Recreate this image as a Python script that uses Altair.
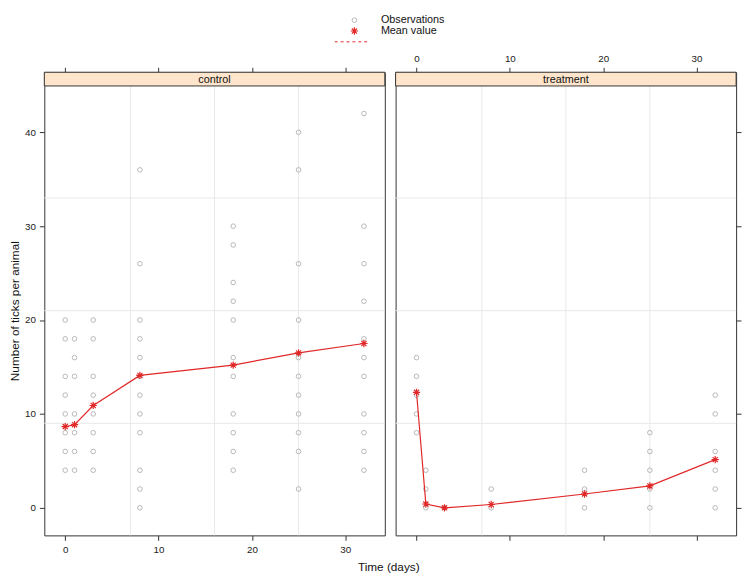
import altair as alt
import pandas as pd

# ---------------- data ----------------
times = [0, 1, 3, 8, 18, 25, 32]

ctrl_t0 = [20, 18, 14, 12, 10, 8, 6, 4]
ctrl_t1 = [18, 16, 14, 10, 8, 6, 4]
ctrl_t3 = [20, 18, 14, 12, 10, 8, 6, 4]
ctrl_t8 = [36, 26, 20, 18, 16, 14, 12, 10, 8, 4, 2, 0]
ctrl_t18 = [30, 28, 24, 22, 20, 16, 14, 10, 8, 6, 4]
ctrl_t25 = [40, 36, 26, 20, 16, 14, 12, 10, 8, 6, 2]
ctrl_t32 = [42, 30, 26, 22, 18, 16, 14, 10, 8, 6, 4]
ctrl_obs = [ctrl_t0, ctrl_t1, ctrl_t3, ctrl_t8, ctrl_t18, ctrl_t25, ctrl_t32]
ctrl_mean = [8.65, 8.85, 10.9, 14.1, 15.2, 16.5, 17.5]

treat_t0 = [16, 14, 12, 10, 8]
treat_t1 = [4, 2, 0]
treat_t3 = [0]
treat_t8 = [2, 0]
treat_t18 = [4, 2, 0]
treat_t25 = [8, 6, 4, 2, 0]
treat_t32 = [12, 10, 6, 4, 2, 0]
treat_obs = [treat_t0, treat_t1, treat_t3, treat_t8, treat_t18, treat_t25, treat_t32]
treat_mean = [12.3, 0.4, 0.0, 0.35, 1.47, 2.33, 5.13]

grid_x = [7, 16, 25]
grid_y = [9, 21, 33]
x_ticks = [0, 10, 20, 30]
y_ticks = [0, 10, 20, 30, 40]
strip_labels = ["control", "treatment"]
legend_labels = ["Observations", "Mean value"]
x_title = "Time (days)"
y_title = "Number of ticks per animal"

# ---------------- styling ----------------
FONT = "Liberation Sans"
INK = "#333333"
GRID = "#e8e8e8"
PT = "#b0b0b0"
RED = "#e02828"
STRIP_FILL = "#ffe5cc"
STAR = "M-1,0L1,0M0,-1L0,1M-0.7,-0.7L0.7,0.7M-0.7,0.7L0.7,-0.7"

W = 347
H = 472
STRIP = 14
XDOM = [-2.24, 34.24]
YDOM = [-2.94, 46.40]


def long_obs(obs):
    rows = []
    for t, vals in zip(times, obs):
        for v in vals:
            rows.append({"time": t, "count": v})
    return pd.DataFrame(rows)


def make_panel(obs, means, label, is_left):
    xs = alt.Scale(domain=XDOM, nice=False, zero=False)
    ys = alt.Scale(domain=YDOM, nice=False, zero=False)
    obs_df = long_obs(obs)
    mean_df = pd.DataFrame({"time": times, "mean": means})
    gx_df = pd.DataFrame({"gx": grid_x})
    gy_df = pd.DataFrame({"gy": grid_y})
    lab_df = pd.DataFrame({"label": [label]})

    if is_left:
        bottom_axis = alt.Axis(orient="bottom", values=x_ticks, title=x_title,
                               titleX=350.5, titleY=32, titleBaseline="middle",
                               titleAlign="center")
        top_axis = alt.Axis(orient="top", values=x_ticks, labels=False, title="")
        y_axis = alt.Axis(orient="left", values=y_ticks, title=y_title,
                          titleX=-30, titleY=243, titleAngle=270,
                          titleBaseline="middle", titleAlign="center")
    else:
        bottom_axis = alt.Axis(orient="bottom", values=x_ticks, labels=False, title="")
        top_axis = alt.Axis(orient="top", values=x_ticks, title="")
        y_axis = alt.Axis(orient="right", values=y_ticks, labels=False, title="")

    vgrid = alt.Chart(gx_df).mark_rule(color=GRID, strokeWidth=1).encode(
        x=alt.X("gx:Q", scale=xs, axis=top_axis))
    hgrid = alt.Chart(gy_df).mark_rule(color=GRID, strokeWidth=1).encode(
        y=alt.Y("gy:Q", scale=ys, axis=None))
    pts = alt.Chart(obs_df).mark_point(shape="circle", filled=False, color=PT,
                                       size=22, strokeWidth=0.9, opacity=1).encode(
        x=alt.X("time:Q", scale=xs, axis=bottom_axis),
        y=alt.Y("count:Q", scale=ys, axis=y_axis))
    line = alt.Chart(mean_df).mark_line(color=RED, strokeWidth=1.2).encode(
        x=alt.X("time:Q", scale=xs, axis=None),
        y=alt.Y("mean:Q", scale=ys, axis=None))
    stars = alt.Chart(mean_df).mark_point(shape=STAR, filled=False, color=RED,
                                          size=55, strokeWidth=1.2, opacity=1).encode(
        x=alt.X("time:Q", scale=xs, axis=None),
        y=alt.Y("mean:Q", scale=ys, axis=None))
    strip = alt.Chart(lab_df).mark_rect(fill=STRIP_FILL, stroke=INK, strokeWidth=1).encode(
        x=alt.value(0), x2=alt.value(W), y=alt.value(0), y2=alt.value(STRIP))
    strip_text = alt.Chart(lab_df).mark_text(font=FONT, fontSize=11, color="#111111",
                                             baseline="middle", align="center").encode(
        x=alt.value(W / 2), y=alt.value(STRIP / 2 + 0.5), text="label:N")

    layers = [vgrid, hgrid, pts, line, stars, strip, strip_text]

    if is_left:
        leg_df = pd.DataFrame({"label": legend_labels})
        leg_obs_pt = alt.Chart(leg_df.iloc[[0]]).mark_point(
            shape="circle", filled=False, color=PT, size=22, strokeWidth=0.9, opacity=1).encode(
            x=alt.value(316), y=alt.value(-53))
        leg_obs_txt = alt.Chart(leg_df.iloc[[0]]).mark_text(
            font=FONT, fontSize=11, color="#111111", align="left", baseline="middle").encode(
            x=alt.value(343), y=alt.value(-53), text="label:N")
        leg_mean_pt = alt.Chart(leg_df.iloc[[1]]).mark_point(
            shape=STAR, filled=False, color=RED, size=55, strokeWidth=1.2, opacity=1).encode(
            x=alt.value(316), y=alt.value(-42))
        leg_mean_txt = alt.Chart(leg_df.iloc[[1]]).mark_text(
            font=FONT, fontSize=11, color="#111111", align="left", baseline="middle").encode(
            x=alt.value(343), y=alt.value(-42), text="label:N")
        leg_line = alt.Chart(leg_df.iloc[[1]]).mark_rule(
            color=RED, strokeWidth=1, strokeDash=[3, 3]).encode(
            x=alt.value(296), x2=alt.value(329), y=alt.value(-31))
        layers += [leg_obs_pt, leg_obs_txt, leg_mean_pt, leg_mean_txt, leg_line]

    return alt.layer(*layers).resolve_axis(x="independent", y="independent").properties(
        width=W, height=H)


left = make_panel(ctrl_obs, ctrl_mean, strip_labels[0], True)
right = make_panel(treat_obs, treat_mean, strip_labels[1], False)

chart = alt.hconcat(left, right, spacing=11, bounds="flush").properties(
    padding={"left": 0, "top": 0, "right": 0, "bottom": 0}
).configure_view(
    stroke=INK, strokeWidth=1
).configure_axis(
    domain=False, grid=False, ticks=True, tickSize=5, tickColor=INK, tickWidth=1,
    labelFont=FONT, labelFontSize=10, labelColor="#222222", labelPadding=4,
    titleFont=FONT, titleFontSize=12, titleFontWeight="normal", titleColor="#111111"
)

chart.save("out.html", embed_options={"renderer": "svg", "actions": False})
